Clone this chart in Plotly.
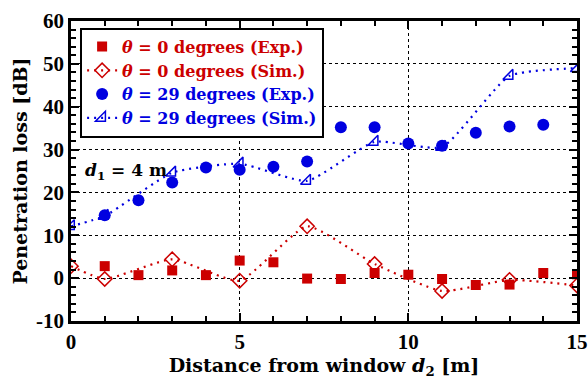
import plotly.graph_objects as go

RED = "#cc0000"
BLUE = "#0000e0"
FONT = "DejaVu Serif"
TICKFONT = "Liberation Serif"

# Data
red_exp_x = [1, 2, 3, 4, 5, 6, 7, 8, 9, 10, 11, 12, 13, 14, 15]
red_exp_y = [2.8, 0.7, 1.8, 0.7, 4.1, 3.7, -0.1, -0.2, 1.2, 0.8, -0.2, -1.6, -1.5, 1.2, 0.9]

red_sim_x = [0, 1, 3, 5, 7, 9, 11, 13, 15]
red_sim_y = [2.8, -0.2, 4.4, -0.6, 12.1, 3.3, -3.0, -0.4, -1.7]

blue_exp_x = [1, 2, 3, 4, 5, 6, 7, 8, 9, 10, 11, 12, 13, 14]
blue_exp_y = [14.7, 18.2, 22.3, 25.8, 25.3, 26.0, 27.2, 35.2, 35.2, 31.4, 30.9, 33.9, 35.4, 35.8]

blue_sim_x = [0, 1, 3, 5, 7, 9, 11, 13, 15]
blue_sim_y = [12.1, 14.5, 24.6, 26.7, 22.7, 31.8, 30.6, 47.2, 49.0]

x_tickvals = [0, 5, 10, 15]
x_ticktext = ["0", "5", "10", "15"]
y_tickvals = [-10, 0, 10, 20, 30, 40, 50, 60]
y_ticktext = ["-10", "0", "10", "20", "30", "40", "50", "60"]

names = [
    "<i>θ</i> = 0 degrees (Exp.)",
    "<i>θ</i> = 0 degrees (Sim.)",
    "<i>θ</i> = 29 degrees (Exp.)",
    "<i>θ</i> = 29 degrees (Sim.)",
]
colors = [RED, RED, BLUE, BLUE]
legend_names = [f"<span style='color:{c}'>{n}</span>" for n, c in zip(names, colors)]

fig = go.Figure()
fig.add_trace(go.Scatter(x=red_exp_x, y=red_exp_y, mode="markers", name=legend_names[0],
                         marker=dict(symbol="square", size=10, color=RED)))
fig.add_trace(go.Scatter(x=red_sim_x, y=red_sim_y, mode="lines+markers", name=legend_names[1],
                         line=dict(color=RED, width=2.2, dash="2px,5px", shape="spline", smoothing=0.5),
                         marker=dict(symbol="diamond-open", size=11, color=RED, line=dict(width=1.5))))
fig.add_trace(go.Scatter(x=blue_exp_x, y=blue_exp_y, mode="markers", name=legend_names[2],
                         marker=dict(symbol="circle", size=12, color=BLUE)))
fig.add_trace(go.Scatter(x=blue_sim_x, y=blue_sim_y, mode="lines+markers", name=legend_names[3],
                         line=dict(color=BLUE, width=2.2, dash="2px,5px", shape="spline", smoothing=0.5),
                         marker=dict(symbol="triangle-se-open", size=11, color=BLUE, line=dict(width=1.5))))

axis_common = dict(
    showline=True, linecolor="black", linewidth=2.5, mirror="allticks",
    ticks="inside", ticklen=8, tickwidth=2, tickcolor="black",
    showgrid=True, gridcolor="black", griddash="dot", gridwidth=1.2,
    zeroline=False, automargin=False, ticklabeloverflow="allow",
    tickfont=dict(family=TICKFONT, size=21, color="black", weight="bold"),
)

fig.update_xaxes(
    range=[0, 15], tickvals=x_tickvals, ticktext=x_ticktext,
    minor=dict(ticks="inside", ticklen=5, tickwidth=1.5, tickcolor="black", dtick=1, showgrid=False),
    title=dict(text="Distance from window <i>d</i><sub>2</sub> [m]",
               font=dict(family=FONT, size=19, color="black", weight="bold"), standoff=4),
    **axis_common,
)
fig.update_yaxes(
    range=[-10, 60], tickvals=y_tickvals, ticktext=y_ticktext,
    minor=dict(ticks="inside", ticklen=5, tickwidth=1.5, tickcolor="black", dtick=2, showgrid=False),
    title=dict(text="Penetration loss [dB]",
               font=dict(family=FONT, size=19, color="black", weight="bold"), standoff=4),
    **axis_common,
)

fig.add_annotation(
    x=0.35, y=25, xref="x", yref="y", xanchor="left", yanchor="middle",
    text="<i>d</i><sub>1</sub> = 4 m", showarrow=False,
    font=dict(family=FONT, size=17, color="black", weight="bold"),
)

fig.update_layout(
    width=588, height=389,
    margin=dict(l=71, r=11, t=21, b=68),
    paper_bgcolor="white", plot_bgcolor="white",
    font=dict(family=FONT, color="black", weight="bold"),
    showlegend=True,
    legend=dict(
        x=0.018, y=0.978, xanchor="left", yanchor="top",
        bgcolor="white", bordercolor="black", borderwidth=2,
        font=dict(family=FONT, size=16, weight="bold"),
        tracegroupgap=1, itemsizing="trace",
    ),
)

fig.write_html(
    "out.html",
    config={"displayModeBar": False},
    post_script=(
        "document.documentElement.style.margin='0';"
        "document.documentElement.style.overflow='hidden';"
        "document.body.style.margin='0';"
        "document.body.style.overflow='hidden';"
    ),
)
